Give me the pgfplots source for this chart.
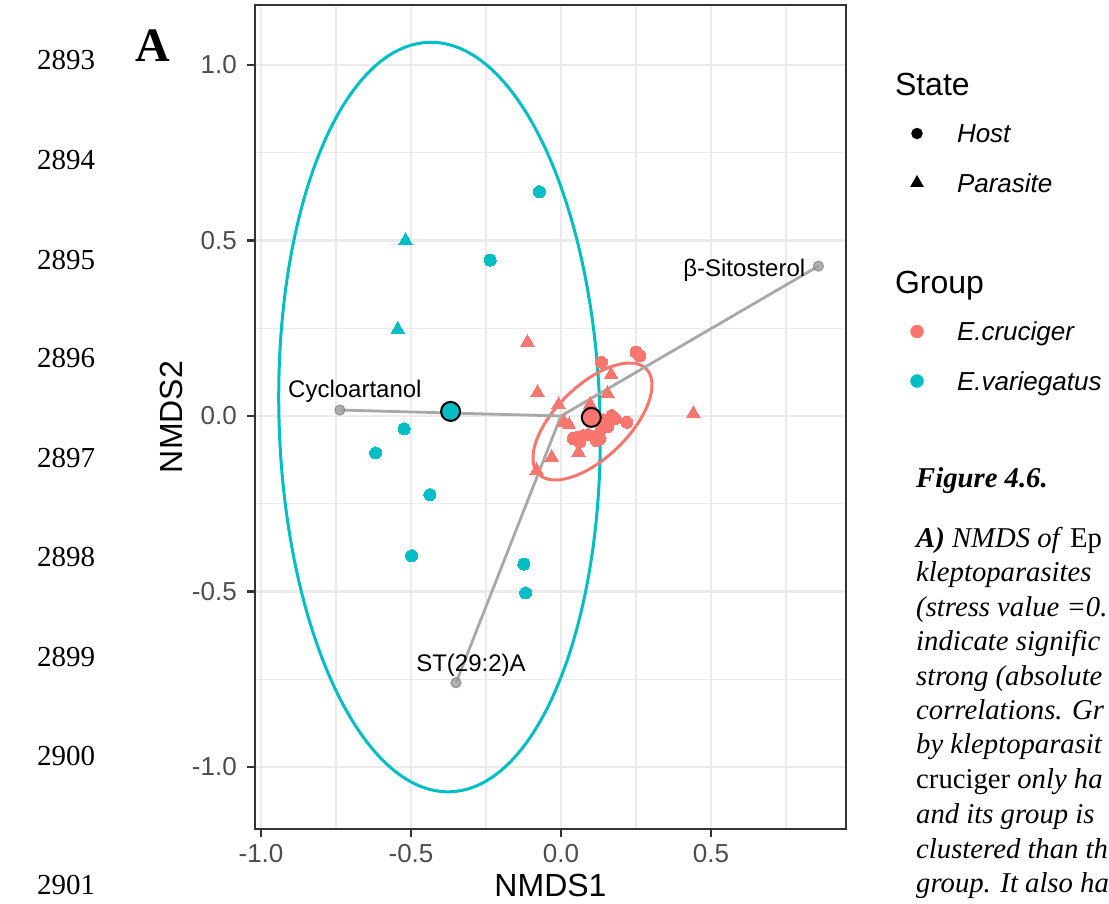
\documentclass[border=0pt]{standalone}
\usepackage{pgfplots}
\pgfplotsset{compat=1.18}
\usepackage{fontspec}
\setmainfont{Liberation Serif}
\setsansfont{Liberation Sans}
\definecolor{cru}{HTML}{F8766D}
\definecolor{var}{HTML}{00BFC4}
\definecolor{gridc}{HTML}{EBEBEB}
\definecolor{g20}{HTML}{333333}
\definecolor{g30}{HTML}{4D4D4D}
\definecolor{seg}{HTML}{A8A8A8}
\definecolor{endp}{HTML}{9E9E9E}
\definecolor{endpd}{HTML}{858585}
\begin{document}
\begin{tikzpicture}[x=1pt,y=1pt]
\useasboundingbox (0,0) rectangle (1109,903);
% line numbers
\foreach \n/\yy in {2893/60,2894/160,2895/260,2896/358,2897/458,2898/557,2899/657,2900/756,2901/885}{
  \node[anchor=base west, inner sep=0pt, font=\fontsize{29}{34}\selectfont] at (37,{903-\yy-9.7}) {\n};
}
% panel letter
\node[anchor=base west, inner sep=0pt, font=\bfseries\fontsize{48}{56}\selectfont] at (135,{903-62}) {A};
% axis titles
\node[font=\sffamily\fontsize{32}{38}\selectfont, inner sep=0pt] at (550.5,{903-885}) {NMDS1};
\node[font=\sffamily\fontsize{32}{38}\selectfont, inner sep=0pt, rotate=90] at (171,{903-417}) {NMDS2};

\begin{axis}[
  at={(255pt,74pt)}, anchor=south west,
  scale only axis, width=591pt, height=824pt,
  xmin=-1.02, xmax=0.95, ymin=-1.1766, ymax=1.1709,
  xtick={-1,-0.5,0,0.5}, xticklabels={-1.0,-0.5,0.0,0.5},
  ytick={-1,-0.5,0,0.5,1}, yticklabels={-1.0,-0.5,0.0,0.5,1.0},
  minor xtick={-0.75,-0.25,0.25,0.75},
  minor ytick={-0.75,-0.25,0.25,0.75},
  grid=both,
  major grid style={draw=gridc, line width=2.6pt},
  minor grid style={draw=gridc, line width=1.3pt},
  tick align=outside, tick pos=left,
  major tick length=8pt, minor tick length=0pt,
  tick style={draw=g20, line width=2.4pt},
  axis line style={draw=g20, line width=2pt},
  ticklabel style={font=\sffamily\fontsize{26}{30}\selectfont, text=g30},
  xticklabel style={inner sep=0pt, yshift=-7pt},
  yticklabel style={inner sep=0pt, xshift=-10pt},
  legend style={at={(axis description cs:1.08629,0.93416)}, anchor=north west,
    draw=none, fill=none, inner sep=0pt, outer sep=0pt, row sep=0pt, column sep=0pt,
    nodes={inner sep=0pt, outer sep=0pt, text depth=},
    font=\sffamily\fontsize{26}{30}\selectfont, text=black},
  legend cell align=left,
  legend image code/.code={\path[draw=none, fill=none] (-20pt,-5pt) rectangle (40pt,5pt); \draw[#1] plot coordinates {(0pt,0pt)};},
]
% legend entries
\addlegendimage{empty legend}
\addlegendentry{\hspace*{-62pt}\fontsize{32}{38}\selectfont\rule[-13.3pt]{0pt}{49.5pt}State}
\addlegendimage{mark=*, mark size=5.5pt, black}
\addlegendentry{\rule[-15.5pt]{0pt}{49.5pt}\textit{Host}}
\addlegendimage{mark=triangle*, mark size=7.5pt, black}
\addlegendentry{\rule[-15.5pt]{0pt}{49.5pt}\textit{Parasite}}
\addlegendimage{empty legend}
\addlegendentry{\rule[-15.5pt]{0pt}{49.5pt}}
\addlegendimage{empty legend}
\addlegendentry{\hspace*{-62pt}\fontsize{32}{38}\selectfont\rule[-13.3pt]{0pt}{49.5pt}Group}
\addlegendimage{mark=*, mark size=6.5pt, cru}
\addlegendentry{\rule[-15.5pt]{0pt}{49.5pt}\textit{E.cruciger}}
\addlegendimage{mark=*, mark size=6.5pt, var}
\addlegendentry{\rule[-15.5pt]{0pt}{49.5pt}\textit{E.variegatus}}

% E. variegatus hosts
\addplot[forget plot, only marks, mark=*, mark size=6pt, mark options={fill=var, draw=var, line width=0pt}] coordinates {
(-0.072,0.639) (-0.236,0.444) (-0.618,-0.105) (-0.523,-0.037) (-0.437,-0.224)
(-0.498,-0.398) (-0.124,-0.422) (-0.118,-0.504)};
% E. variegatus parasites
\addplot[forget plot, only marks, mark=triangle*, mark size=7.8pt, mark options={fill=var, draw=var, line width=0pt}] coordinates {
(-0.518,0.500) (-0.544,0.247)};
% E. cruciger hosts
\addplot[forget plot, only marks, mark=*, mark size=6pt, mark options={fill=cru, draw=cru, line width=0pt}] coordinates {
(0.250,0.182) (0.263,0.171) (0.135,0.153) (0.141,-0.011) (0.169,0.001) (0.180,-0.007)
(0.219,-0.018) (0.156,-0.030) (0.136,-0.035) (0.130,-0.064) (0.113,-0.059) (0.040,-0.064)
(0.057,-0.060) (0.073,-0.056) (0.090,-0.053) (0.063,-0.074) (0.118,-0.070)};
% E. cruciger parasites
\addplot[forget plot, only marks, mark=triangle*, mark size=7.8pt, mark options={fill=cru, draw=cru, line width=0pt}] coordinates {
(-0.112,0.210) (0.167,0.118) (-0.078,0.067) (0.155,0.064) (-0.008,0.032) (0.097,0.033)
(0.441,0.007) (0.010,-0.018) (0.027,-0.025) (0.058,-0.104) (-0.031,-0.118) (-0.081,-0.155)};
% centroids
\addplot[forget plot, only marks, mark=*, mark size=9.5pt, mark options={fill=var, draw=black, line width=2pt}] coordinates {(-0.368,0.013)};
\addplot[forget plot, only marks, mark=*, mark size=9.5pt, mark options={fill=cru, draw=black, line width=2pt}] coordinates {(0.101,-0.004)};
% ellipses
\draw[var, line width=3pt, rotate around={1.6:(axis cs:-0.405,-0.003)}] (axis cs:-0.405,-0.003) ellipse [x radius=0.535, y radius=1.068];
\draw[cru, line width=3pt, rotate around={44.2:(axis cs:0.105,-0.0157)}] (axis cs:0.105,-0.0157) ellipse [x radius=0.2507, y radius=0.1031];
% fitted vectors
\addplot[forget plot, seg, line width=2.8pt] coordinates {(0,0) (0.858,0.427)};
\addplot[forget plot, seg, line width=2.8pt] coordinates {(0,0) (-0.737,0.017)};
\addplot[forget plot, seg, line width=2.8pt] coordinates {(0,0) (-0.350,-0.760)};
\addplot[forget plot, only marks, mark=*, mark size=5pt, mark options={fill=endp, draw=endpd, line width=1.2pt, opacity=0.8}] coordinates {
(0.858,0.427) (-0.737,0.017) (-0.350,-0.760)};
\node[anchor=base east, inner sep=0pt, font=\sffamily\fontsize{24}{28}\selectfont, xshift=-13pt, yshift=-10.5pt] at (axis cs:0.858,0.427) {β-Sitosterol};
\node[anchor=base, inner sep=0pt, font=\sffamily\fontsize{24}{28}\selectfont, xshift=15pt, yshift=13pt] at (axis cs:-0.737,0.017) {Cycloartanol};
\node[anchor=base, inner sep=0pt, font=\sffamily\fontsize{24}{28}\selectfont, xshift=15pt, yshift=11pt] at (axis cs:-0.350,-0.760) {ST(29:2)A};
\end{axis}

% caption
\begin{scope}[every node/.style={anchor=base west, inner sep=0pt, font=\fontsize{28.7}{34}\selectfont}]
\node at (916,{903-488}) {\textbf{\textit{Figure 4.6.}}};
\node at (916,{903-548}) {\textbf{\textit{A)}} \textit{NMDS of} Ep};
\node at (916,{903-582}) {\textit{kleptoparasites}};
\node at (916,{903-617}) {\textit{(stress value =0.}};
\node at (916,{903-651}) {\textit{indicate signific}};
\node at (916,{903-686}) {\textit{strong (absolute}};
\node at (916,{903-720}) {\textit{correlations. Gr}};
\node at (916,{903-754}) {\textit{by kleptoparasit}};
\node at (916,{903-789}) {cruciger \textit{only ha}};
\node at (916,{903-823}) {\textit{and its group is}};
\node at (916,{903-858}) {\textit{clustered than th}};
\node at (916,{903-892}) {\textit{group. It also ha}};
\end{scope}
\end{tikzpicture}
\end{document}
